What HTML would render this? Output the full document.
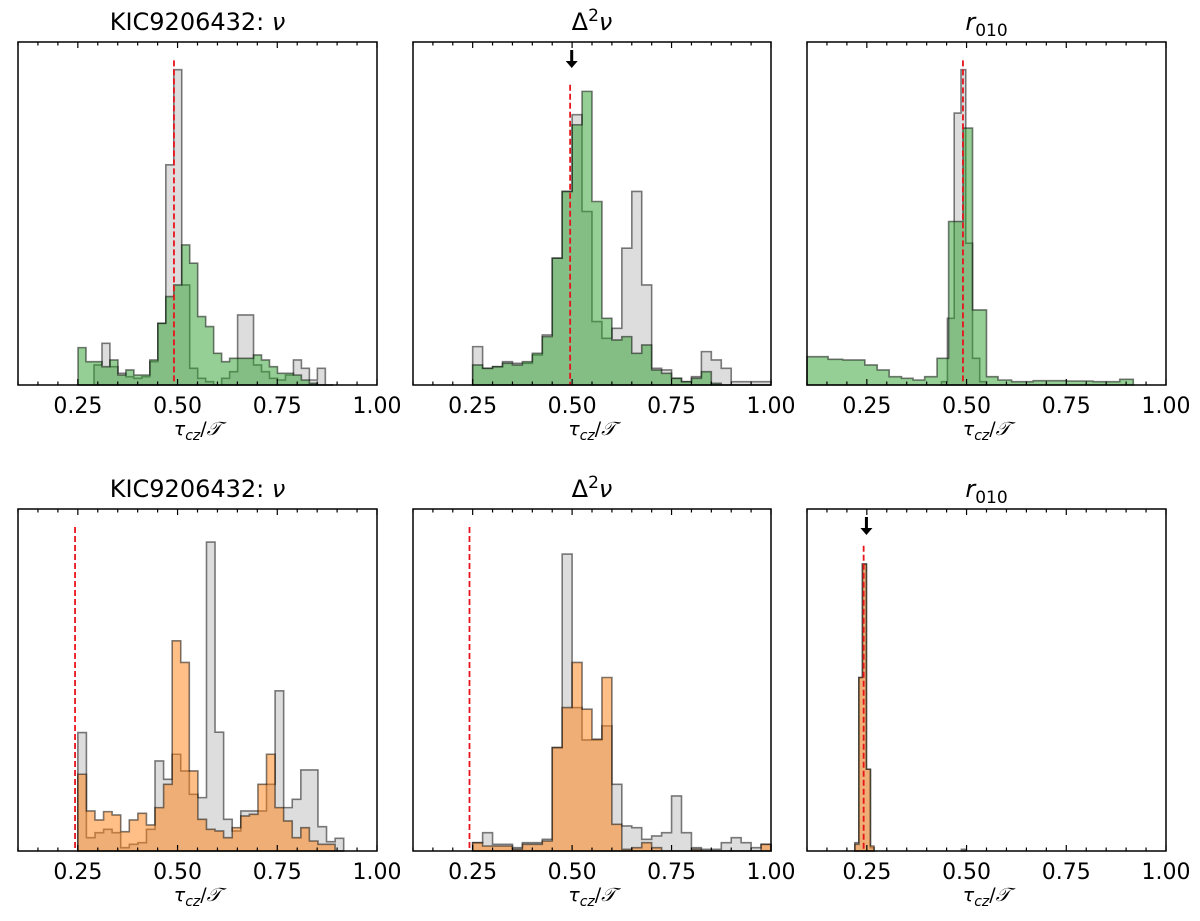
<!DOCTYPE html>
<html><head><meta charset="utf-8"><style>
html,body{margin:0;padding:0;background:#fff;}
svg{display:block;font-family:"DejaVu Sans","Liberation Sans",sans-serif;}
</style></head><body>
<svg id="fig" width="1200" height="921" viewBox="0 0 1200 921" xmlns="http://www.w3.org/2000/svg"></svg>
<script>
// ---- data (heights in arbitrary counts) ----
const p1GreyStart = 0.2505, p1BinW = 0.02;
const p1Grey = [0,0,60,125,55,35,25,20,25,70,185,660,945,300,50,20,10,0,20,40,210,210,60,40,20,15,30,75,50,15,50,0];
const p1Green = [112,70,70,55,75,30,45,30,30,75,185,265,300,420,365,205,175,95,70,80,80,80,90,75,55,35,35,30,15,5,0,0];

const p2Start = 0.25, p2BinW = 0.025;
const p2Grey = [115,50,55,70,65,65,90,150,380,580,810,520,190,140,170,410,580,300,50,45,20,10,25,100,75,50,10,10,10,10];
const p2Green = [60,50,55,65,60,70,95,145,380,580,780,880,550,200,135,145,95,120,45,35,20,10,20,40,5,0,0,0,0,0];

const p3GreenEdges = [0.1,0.153,0.19,0.245,0.276,0.306,0.337,0.366,0.395,0.426,0.455,0.491,0.515,0.55,0.579,0.613,0.667,0.751,0.817,0.884,0.918];
const p3Green = [85,77,75,60,45,25,20,15,25,80,490,770,225,25,15,10,13,12,10,17];
const p3GreyEdges = [0.437,0.452,0.469,0.486,0.498,0.515,0.533,0.55];
const p3Grey = [10,200,815,945,425,80,10];

const p4Start = 0.25, p4BinW = 0.0215;
const p4Grey = [355,40,55,65,55,10,20,25,65,270,215,290,240,170,160,926,356,95,60,120,120,120,200,480,130,155,243,243,73,28,38];
const p4Orange = [230,120,93,118,108,58,93,113,78,130,200,630,565,240,95,65,60,40,70,105,110,200,290,130,90,40,70,30,20,20,0];

const p5Start = 0.25, p5BinW = 0.025;
const p5Grey = [25,55,20,20,10,25,25,35,310,890,430,333,333,375,200,75,70,35,45,55,165,55,10,5,5,25,40,25,10,20];
const p5Orange = [25,15,15,15,5,20,20,30,310,430,565,425,335,520,80,5,10,25,10,0,0,0,5,0,0,0,0,0,0,20];

const p6Edges = [0.22,0.23,0.239,0.249,0.259,0.268];
const p6Grey = [25,520,860,245,10];
const p6Orange = [20,520,860,245,15];
const p6SmallEdges = [0.487,0.497];
const p6Small = [5];

const refLines = [0.491,0.495,0.491,0.243,0.242,0.242];
const refTops = [973,900,973,971,971,915];
const arrowX = {p2:0.499, p6:0.249};
const xTicks = [0.25,0.5,0.75,1.0];
const xTickLabels = ["0.25","0.50","0.75","1.00"];

const NS = "http://www.w3.org/2000/svg";
const svg = document.getElementById('fig');
function mk(tag, attrs, parent){const e=document.createElementNS(NS,tag);for(const k in attrs)e.setAttribute(k,attrs[k]);(parent||svg).appendChild(e);return e;}
function uniformEdges(start,w,n){const e=[];for(let i=0;i<=n;i++)e.push(start+i*w);return e;}

const panels = [
 {id:'p1',x0:18,x1:377,y0:42,y1:385,ymax:1028,title:'nu'},
 {id:'p2',x0:413,x1:771,y0:42,y1:385,ymax:1028,title:'d2nu'},
 {id:'p3',x0:807,x1:1166,y0:42,y1:385,ymax:1028,title:'r010'},
 {id:'p4',x0:18,x1:377,y0:509,y1:851,ymax:1025,title:'nu'},
 {id:'p5',x0:413,x1:771,y0:509,y1:851,ymax:1025,title:'d2nu'},
 {id:'p6',x0:807,x1:1166,y0:509,y1:851,ymax:1025,title:'r010'}
];
const GREY={fill:'#bbbbbb',stroke:'#000'};
const GREEN={fill:'#2ca02c',stroke:'#000'};
const ORANGE={fill:'#ff7f0e',stroke:'#000'};

function drawHist(p,g,edges,vals,col,name){
  const xs=v=>p.x0+(v-0.1)/0.9*(p.x1-p.x0);
  const ys=c=>p.y1-c/p.ymax*(p.y1-p.y0);
  let d='M'+xs(edges[0])+','+p.y1;
  for(let i=0;i<vals.length;i++){d+=' L'+xs(edges[i])+','+ys(vals[i])+' L'+xs(edges[i+1])+','+ys(vals[i]);}
  d+=' L'+xs(edges[vals.length])+','+p.y1+' Z';
  const path=mk('path',{d:d,fill:col.fill,'fill-opacity':0.5,stroke:col.stroke,'stroke-opacity':0.5,'stroke-width':1.6,'stroke-linejoin':'miter'},g);
  
  
}

function titleText(p,g){
  const cx=(p.x0+p.x1)/2, ty=p.y0-12;
  const t=mk('text',{x:cx,y:ty,'text-anchor':'middle','font-size':24,fill:'#000'},g);
  
  
  if(p.title==='nu'){t.innerHTML='KIC9206432: <tspan font-style="italic">ν</tspan>';}
  else if(p.title==='d2nu'){t.innerHTML='Δ<tspan dy="-9" font-size="17">2</tspan><tspan dy="9" font-style="italic">ν</tspan>';}
  else {t.innerHTML='<tspan font-style="italic">r</tspan><tspan dy="6" font-size="17">010</tspan>';}
}

panels.forEach((p,pi)=>{
  const g=mk('g',{});
  
  
  const xs=v=>p.x0+(v-0.1)/0.9*(p.x1-p.x0);
  const ys=c=>p.y1-c/p.ymax*(p.y1-p.y0);
  if(p.id==='p1'){drawHist(p,g,uniformEdges(p1GreyStart,p1BinW,p1Grey.length),p1Grey,GREY,'hist-grey');drawHist(p,g,uniformEdges(p1GreyStart,p1BinW,p1Green.length),p1Green,GREEN,'hist-green');}
  if(p.id==='p2'){drawHist(p,g,uniformEdges(p2Start,p2BinW,p2Grey.length),p2Grey,GREY,'hist-grey');drawHist(p,g,uniformEdges(p2Start,p2BinW,p2Green.length),p2Green,GREEN,'hist-green');}
  if(p.id==='p3'){drawHist(p,g,p3GreyEdges,p3Grey,GREY,'hist-grey');drawHist(p,g,p3GreenEdges,p3Green,GREEN,'hist-green');}
  if(p.id==='p4'){drawHist(p,g,uniformEdges(p4Start,p4BinW,p4Grey.length),p4Grey,GREY,'hist-grey');drawHist(p,g,uniformEdges(p4Start,p4BinW,p4Orange.length),p4Orange,ORANGE,'hist-orange');}
  if(p.id==='p5'){drawHist(p,g,uniformEdges(p5Start,p5BinW,p5Grey.length),p5Grey,GREY,'hist-grey');drawHist(p,g,uniformEdges(p5Start,p5BinW,p5Orange.length),p5Orange,ORANGE,'hist-orange');}
  if(p.id==='p6'){drawHist(p,g,p6SmallEdges,p6Small,GREY,'hist-grey-small');drawHist(p,g,p6Edges,p6Grey,GREY,'hist-grey');drawHist(p,g,p6Edges,p6Orange,ORANGE,'hist-orange');}
  const rx=xs(refLines[pi]);
  const rl=mk('line',{x1:rx,x2:rx,y1:ys(refTops[pi]),y2:p.y1,stroke:'#e8141c','stroke-width':1.8,'stroke-dasharray':'6,3'},g);
  
  
  if(arrowX[p.id]!==undefined){
    const ax=xs(arrowX[p.id]);
    const ag=mk('g',{},g);
    
    
    const a0=p.y0+8, a1=p.y0+26;
    mk('line',{x1:ax,x2:ax,y1:a0,y2:a1-5,stroke:'#000','stroke-width':3},ag);
    mk('path',{d:`M${ax-6},${a1-7} L${ax+6},${a1-7} L${ax},${a1} Z`,fill:'#000'},ag);
  }
  const fr=mk('rect',{x:p.x0,y:p.y0,width:p.x1-p.x0,height:p.y1-p.y0,fill:'none',stroke:'#000','stroke-width':1.5},g);
  
  
  for(let k=0;k<=18;k++){
    const v=0.1+k*0.05; if(v>1.0001)break;
    const major=xTicks.some(t=>Math.abs(t-v)<1e-6);
    const L=major?6:3.5, x=xs(v);
    mk('line',{x1:x,x2:x,y1:p.y1,y2:p.y1-L,stroke:'#000','stroke-width':1.2},g);
    mk('line',{x1:x,x2:x,y1:p.y0,y2:p.y0+L,stroke:'#000','stroke-width':1.2},g);
  }
  xTicks.forEach((t,i)=>{
    const tl=mk('text',{x:xs(t),y:p.y1+28,'text-anchor':'middle','font-size':22,fill:'#000'},g);
    
    
    tl.textContent=xTickLabels[i];
  });
  const xl=mk('text',{x:(p.x0+p.x1)/2,y:p.y1+50,'text-anchor':'middle','font-size':19,fill:'#000'},g);
  
  
  xl.innerHTML='<tspan font-style="italic">τ</tspan><tspan dy="5" font-size="14" font-style="italic">cz</tspan><tspan dy="-5">/</tspan><tspan font-style="italic">𝒯</tspan>';
  titleText(p,g);
});
</script>
</body></html>
